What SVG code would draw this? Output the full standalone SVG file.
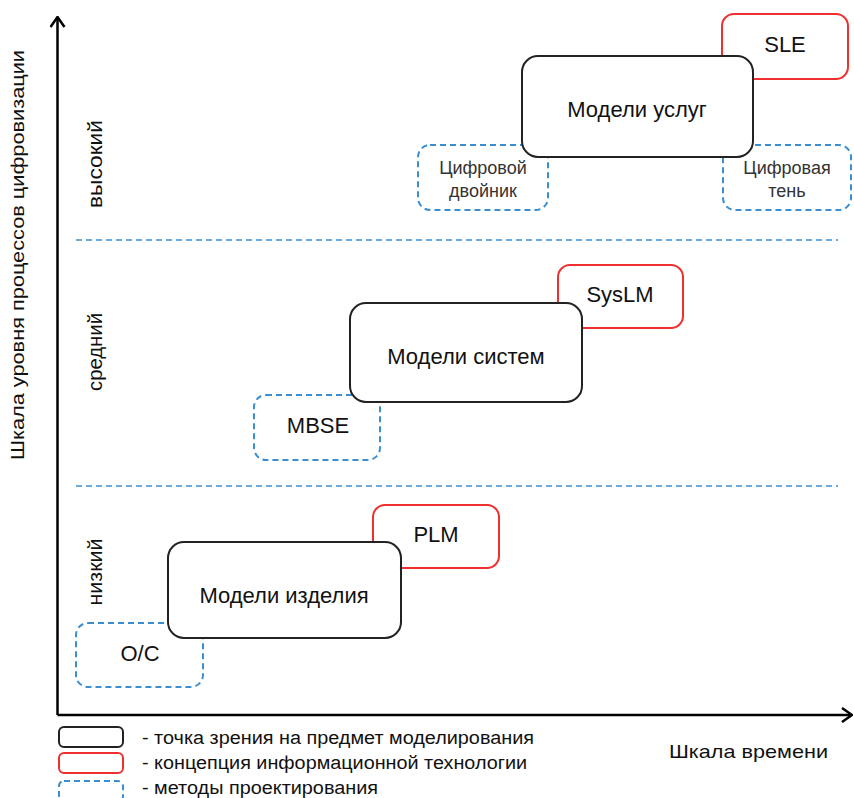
<svg xmlns="http://www.w3.org/2000/svg" width="854" height="798" viewBox="0 0 854 798">
<style>
  text { font-family: "Liberation Sans", Arial, sans-serif; fill: #111; }
  .main { font-size: 22px; text-anchor: middle; }
  .small { font-size: 18px; text-anchor: middle; fill: #333; }
  .lvl { font-size: 20px; text-anchor: middle; }
  .leg { font-size: 18px; }
  .view { fill: #fff; stroke: #222; stroke-width: 2; }
  .concept { fill: #fff; stroke: #f03030; stroke-width: 2; }
  .method { fill: #fff; stroke: #3b8fd1; stroke-width: 2; stroke-dasharray: 6 4; }
  .sep { stroke: #3b8fd1; stroke-width: 1.3; stroke-dasharray: 6 4; fill: none; }
  .axis { stroke: #000; stroke-width: 2.5; fill: none; }
</style>
<defs>
  <marker id="arr" viewBox="0 0 12 16" refX="11" refY="8" markerWidth="12" markerHeight="16" markerUnits="userSpaceOnUse" orient="auto">
    <path d="M1,1 L11,8 L1,15" fill="none" stroke="#000" stroke-width="2.5"/>
  </marker>
</defs>

<g id="connectors">
  <path class="axis" d="M57.5,715 L57.5,17" marker-end="url(#arr)"/>
  <path class="axis" d="M57.5,715 L852,715" marker-end="url(#arr)"/>
  <line class="sep" x1="76" y1="240" x2="838" y2="240"/>
  <line class="sep" x1="76" y1="486" x2="838" y2="486"/>
</g>

<g id="labels">
  <text transform="translate(24,255) rotate(-90)" font-size="19" text-anchor="middle" textLength="410" lengthAdjust="spacingAndGlyphs">Шкала уровня процессов цифровизации</text>
  <text class="lvl" transform="translate(102,164) rotate(-90)" textLength="88" lengthAdjust="spacingAndGlyphs">высокий</text>
  <text class="lvl" transform="translate(102,352) rotate(-90)" textLength="78" lengthAdjust="spacingAndGlyphs">средний</text>
  <text class="lvl" transform="translate(102,572) rotate(-90)" textLength="67" lengthAdjust="spacingAndGlyphs">низкий</text>
  <text x="669" y="758" font-size="19" textLength="159" lengthAdjust="spacingAndGlyphs">Шкала времени</text>
</g>

<!-- high level -->
<g id="sle">
  <rect class="concept" x="722" y="14" width="126" height="65" rx="12"/>
  <text class="main" x="785" y="52">SLE</text>
</g>
<g id="twin">
  <rect class="method" x="418" y="145" width="130" height="65" rx="12"/>
  <text class="small" x="483" y="174">Цифровой</text>
  <text class="small" x="483" y="197">двойник</text>
</g>
<g id="shadow">
  <rect class="method" x="723" y="145" width="128" height="65" rx="12"/>
  <text class="small" x="787" y="174">Цифровая</text>
  <text class="small" x="787" y="197">тень</text>
</g>
<g id="services">
  <rect class="view" x="522" y="56" width="231" height="101" rx="16"/>
  <text class="main" x="637" y="117">Модели услуг</text>
</g>

<!-- middle level -->
<g id="syslm">
  <rect class="concept" x="558" y="265" width="125" height="63" rx="12"/>
  <text class="main" x="620" y="302">SysLM</text>
</g>
<g id="mbse">
  <rect class="method" x="254" y="395" width="126" height="65" rx="12"/>
  <text class="main" x="318" y="433">MBSE</text>
</g>
<g id="systems">
  <rect class="view" x="350" y="303" width="232" height="99" rx="16"/>
  <text class="main" x="466" y="364">Модели систем</text>
</g>

<!-- low level -->
<g id="plm">
  <rect class="concept" x="373" y="505" width="126" height="63" rx="12"/>
  <text class="main" x="436" y="542">PLM</text>
</g>
<g id="oc">
  <rect class="method" x="76" y="623" width="127" height="64" rx="12"/>
  <text class="main" x="140" y="661">О/С</text>
</g>
<g id="product">
  <rect class="view" x="168" y="542" width="233" height="96" rx="16"/>
  <text class="main" x="284" y="603">Модели изделия</text>
</g>

<!-- legend -->
<g id="legend">
  <rect class="view" x="59" y="727" width="64" height="20" rx="5"/>
  <rect class="concept" x="59" y="753" width="64" height="20" rx="5"/>
  <rect class="method" x="59" y="781" width="64" height="20" rx="5"/>
  <text class="leg" x="142" y="744" textLength="392" lengthAdjust="spacingAndGlyphs">- точка зрения на предмет моделирования</text>
  <text class="leg" x="142" y="769" textLength="385" lengthAdjust="spacingAndGlyphs">- концепция информационной технологии</text>
  <text class="leg" x="142" y="794" textLength="236" lengthAdjust="spacingAndGlyphs">- методы проектирования</text>
</g>
</svg>
